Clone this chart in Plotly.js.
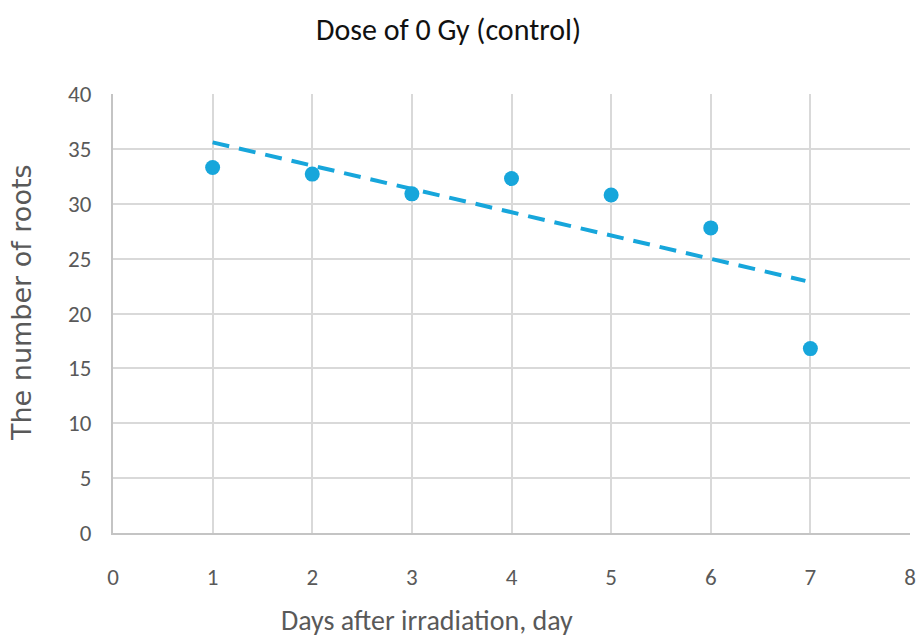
<!DOCTYPE html>
<html>
<head>
<meta charset="utf-8">
<script src="https://cdn.plot.ly/plotly-3.0.1.min.js"></script>
<style>html,body{margin:0;padding:0;background:#fff;}#chart{width:919px;height:637px;}</style>
</head>
<body>
<div id="chart"></div>
<script>
const days = [1, 2, 3, 4, 5, 6, 7];
const roots = [33.3, 32.7, 30.9, 32.3, 30.8, 27.8, 16.8];
const xTicks = [0, 1, 2, 3, 4, 5, 6, 7, 8];
const yTicks = [0, 5, 10, 15, 20, 25, 30, 35, 40];
const chartTitle = 'Dose of 0 Gy (control)';
const xTitle = 'Days after irradiation, day';
const yTitle = 'The number of roots';

// linear least-squares trendline from the data
const n = days.length;
const mx = days.reduce((a, b) => a + b, 0) / n;
const my = roots.reduce((a, b) => a + b, 0) / n;
let sxy = 0, sxx = 0;
for (let i = 0; i < n; i++) { sxy += (days[i] - mx) * (roots[i] - my); sxx += (days[i] - mx) ** 2; }
const slope = sxy / sxx, icpt = my - slope * mx;
const trendX = [days[0], days[n - 1] - 0.05];
const trendY = trendX.map(x => icpt + slope * x);

const blue = '#17a6db';
const narrow = "Carlito, 'Liberation Sans Narrow', 'Open Sans', sans-serif";
const traces = [
  { x: trendX, y: trendY, mode: 'lines', line: { color: blue, width: 4, dash: '17px,10px' }, hoverinfo: 'skip' },
  { x: days, y: roots, mode: 'markers', marker: { color: blue, size: 15, symbol: 'circle' } }
];
const layout = {
  width: 919, height: 637,
  margin: { l: 113, r: 9, t: 94, b: 104 },
  showlegend: false,
  paper_bgcolor: '#fff', plot_bgcolor: '#fff',
  font: { family: narrow, color: '#595959', size: 23 },
  xaxis: {
    range: [0, 8], tickvals: xTicks, ticktext: xTicks.map(String),
    showgrid: true, gridcolor: '#d9d9d9', gridwidth: 2,
    showline: true, linecolor: '#c4c4c4', linewidth: 2, mirror: false,
    zeroline: false, ticks: 'outside', ticklen: 22, tickcolor: 'rgba(0,0,0,0)',
    tickfont: { family: narrow, size: 23, color: '#595959' }
  },
  yaxis: {
    range: [0, 40], tickvals: yTicks, ticktext: yTicks.map(String),
    showgrid: true, gridcolor: '#d9d9d9', gridwidth: 2,
    showline: true, linecolor: '#c4c4c4', linewidth: 2,
    zeroline: false, ticks: 'outside', ticklen: 15, tickcolor: 'rgba(0,0,0,0)',
    tickfont: { family: narrow, size: 23, color: '#595959' }
  },
  annotations: [
    { text: chartTitle, xref: 'paper', yref: 'paper', x: (448 - 113) / 797, y: 1 + (94 - 30) / 439,
      showarrow: false, xanchor: 'center', yanchor: 'middle', font: { family: narrow, size: 30, color: '#111' } },
    { text: xTitle, xref: 'paper', yref: 'paper', x: (427 - 113) / 797, y: -(620 - 533) / 439,
      showarrow: false, xanchor: 'center', yanchor: 'middle', font: { family: narrow, size: 28, color: '#595959' } },
    { text: yTitle, xref: 'paper', yref: 'paper', x: -(113 - 21) / 797, y: (533 - 303) / 439,
      showarrow: false, xanchor: 'center', yanchor: 'middle', textangle: -90, font: { family: "'DejaVu Sans', Verdana, sans-serif", size: 27, color: '#595959' } }
  ]
};
Plotly.newPlot('chart', traces, layout, { displayModeBar: false, staticPlot: true });
</script>
</body>
</html>
